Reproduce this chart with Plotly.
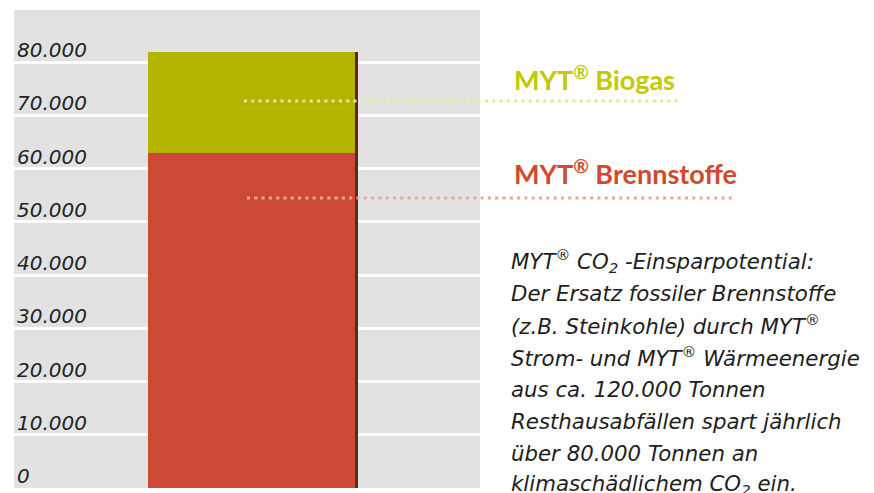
import plotly.graph_objects as go

# ---- data ----
category = ["MYT"]
brennstoffe = [63000]
biogas = [18800]
tick_vals = [0, 10000, 20000, 30000, 40000, 50000, 60000, 70000, 80000]
tick_text = ["0", "10.000", "20.000", "30.000", "40.000", "50.000", "60.000", "70.000", "80.000"]
label_biogas = "MYT<sup>®</sup> Biogas"
label_brenn = "MYT<sup>®</sup> Brennstoffe"
paragraph = [
    "MYT<sup>®</sup> CO<sub>2</sub> -Einsparpotential:",
    "Der Ersatz fossiler Brennstoffe",
    "(z.B. Steinkohle) durch MYT<sup>®</sup>",
    "Strom- und MYT<sup>®</sup> Wärmeenergie",
    "aus ca. 120.000 Tonnen",
    "Resthausabfällen spart jährlich",
    "über 80.000 Tonnen an",
    "klimaschädlichem CO<sub>2</sub> ein.",
]

# page body has an 8px default margin: figure is drawn 8px in from the window edge
OFF = 8
W, H = 874 - OFF, 493 - OFF
RED = "#cc4a35"
OLIVE = "#b2b400"
GRAY = "#e2e2e2"

total = [a + b for a, b in zip(brennstoffe, biogas)]

fig = go.Figure()
# shadow behind the bar (right edge)
fig.add_trace(go.Bar(x=category, y=total, width=0.98, offset=-0.465,
                     marker=dict(color="#5a2a1a", line=dict(width=0)),
                     hoverinfo="skip", showlegend=False))
fig.add_trace(go.Bar(x=category, y=brennstoffe, width=1, offset=-0.5,
                     marker=dict(color=RED, line=dict(width=0)), name="Brennstoffe"))
fig.add_trace(go.Bar(x=category, y=biogas, base=brennstoffe, width=1, offset=-0.5,
                     marker=dict(color=OLIVE, line=dict(width=0)), name="Biogas"))

def xp(px):
    return (px - OFF) / W

def yp(py):
    return 1 - (py - OFF) / H

# plot area geometry (window pixels)
left_px, right_px = 14, 480
top_px, zero_px = 10, 488
px_per_unit = 53.25 / 10000
ymax = (zero_px - top_px) / px_per_unit

bar_l, bar_r = 148, 355
scale = bar_r - bar_l
r0 = -0.5 - (bar_l - left_px) / scale
r1 = r0 + (right_px - left_px) / scale

fig.update_layout(
    width=W, height=H,
    margin=dict(l=0, r=0, t=0, b=0, pad=0, autoexpand=False),
    paper_bgcolor="white", plot_bgcolor=GRAY,
    barmode="overlay", showlegend=False, bargap=0,
    xaxis=dict(visible=False, range=[r0, r1], type="category",
               domain=[xp(left_px), xp(right_px)]),
    yaxis=dict(range=[0, ymax], tickvals=tick_vals, ticktext=tick_text,
               domain=[yp(zero_px), yp(top_px)],
               ticklabelposition="inside top", ticklabelshift=2,
               showgrid=True, gridcolor="white",
               gridwidth=3, zeroline=False, showline=False, ticks="",
               tickfont=dict(family="DejaVu Sans", size=20, color="#222222", style="italic")),
)

# leader dotted lines
fig.add_shape(type="line", xref="paper", yref="paper", x0=xp(244), x1=xp(680),
              y0=yp(101), y1=yp(101), line=dict(color="#e4ea8a", width=3, dash="3px,4.3px"))
fig.add_shape(type="line", xref="paper", yref="paper", x0=xp(247), x1=xp(735),
              y0=yp(198), y1=yp(198), line=dict(color="#f2a68c", width=3, dash="3px,4.3px"))

fig.add_annotation(text=label_biogas, xref="paper", yref="paper", x=xp(512), y=yp(78),
                   xanchor="left", yanchor="middle", showarrow=False,
                   font=dict(family="Lato", size=27, color="#c2c900", weight="bold"))
fig.add_annotation(text=label_brenn, xref="paper", yref="paper", x=xp(512), y=yp(172),
                   xanchor="left", yanchor="middle", showarrow=False,
                   font=dict(family="Lato", size=27, color="#d04a30", weight="bold"))

for i, line in enumerate(paragraph):
    fig.add_annotation(text=line, xref="paper", yref="paper", x=xp(509), y=yp(261 + 32 * i),
                       xanchor="left", yanchor="middle", showarrow=False,
                       font=dict(family="DejaVu Sans", size=21.3, color="#1e1e1e", style="italic"))

fig.write_html("out.html")
